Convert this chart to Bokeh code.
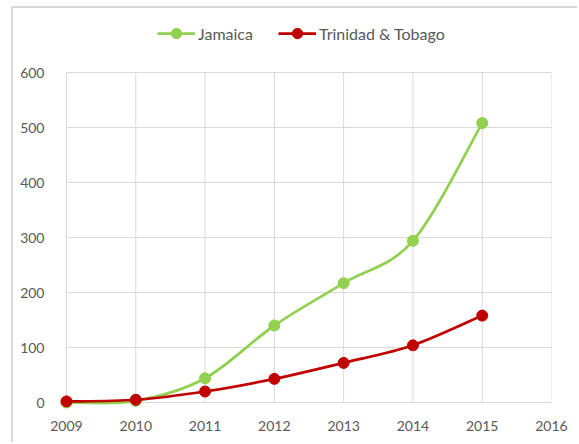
import numpy as np
from bokeh.plotting import figure
from bokeh.models import Legend, LegendItem, FixedTicker, ColumnDataSource
from bokeh.embed import file_html
from bokeh.resources import INLINE

years = [2009, 2010, 2011, 2012, 2013, 2014, 2015]
jamaica = [0, 3, 44, 140, 217, 294, 508]
trinidad = [2, 5, 20, 43, 72, 104, 158]
x_ticks = [2009, 2010, 2011, 2012, 2013, 2014, 2015, 2016]
y_ticks = [0, 100, 200, 300, 400, 500, 600]

GREEN = "#92d050"
RED = "#c00000"
GRID = "#d9d9d9"
TEXT = "#595959"
FONT = "Lato"

# layout (pixels within the canvas)
W, H = 566, 436
PAD_L, PAD_B = 10, 10          # extra room so edge markers are not clipped
PLOT_L, PLOT_R = 53, 538       # 2009 .. 2016
PLOT_T, PLOT_B = 64, 394       # 600 .. 0
xs_per_px = (x_ticks[-1] - x_ticks[0]) / (PLOT_R - PLOT_L)
ys_per_px = (y_ticks[-1] - y_ticks[0]) / (PLOT_B - PLOT_T)
x_start = x_ticks[0] - PAD_L * xs_per_px
y_start = y_ticks[0] - PAD_B * ys_per_px
y_end = y_ticks[-1] + PLOT_T * ys_per_px


def bezier_source(xs, ys):
    xs = np.asarray(xs, dtype=float)
    ys = np.asarray(ys, dtype=float)
    n = len(xs)
    d = dict(x0=[], y0=[], x1=[], y1=[], cx0=[], cy0=[], cx1=[], cy1=[])
    for i in range(n - 1):
        a = max(i - 1, 0)
        b = min(i + 2, n - 1)
        d["x0"].append(xs[i]); d["y0"].append(ys[i])
        d["x1"].append(xs[i + 1]); d["y1"].append(ys[i + 1])
        d["cx0"].append(xs[i] + (xs[i + 1] - xs[a]) / 6)
        d["cy0"].append(ys[i] + (ys[i + 1] - ys[a]) / 6)
        d["cx1"].append(xs[i + 1] - (xs[b] - xs[i]) / 6)
        d["cy1"].append(ys[i + 1] - (ys[b] - ys[i]) / 6)
    return ColumnDataSource(d)


p = figure(width=W, height=H, x_range=(x_start, x_ticks[-1]), y_range=(y_start, y_end),
           output_backend="svg", toolbar_location=None,
           min_border_left=PLOT_L - PAD_L, min_border_right=W - PLOT_R,
           min_border_top=0, min_border_bottom=H - PLOT_B - PAD_B)
p.styles = {"margin-left": "11px", "margin-top": "6px",
            "border-left": "2px solid #d9d9d9", "border-top": "2px solid #d9d9d9"}
p.outline_line_color = None
p.background_fill_color = "white"
p.border_fill_color = "white"
p.xgrid.visible = False
p.ygrid.visible = False

p.xaxis.ticker = FixedTicker(ticks=x_ticks)
p.yaxis.ticker = FixedTicker(ticks=y_ticks)
for ax in (p.xaxis, p.yaxis):
    ax.axis_line_color = None
    ax.major_tick_line_color = None
    ax.minor_tick_line_color = None
    ax.major_label_text_font = FONT
    ax.major_label_text_font_size = "14px"
    ax.major_label_text_color = TEXT
p.xaxis.major_label_standoff = 2
p.yaxis.major_label_standoff = 6

# grid lines (plot area 2009..2016 x 0..600)
p.segment(x0=x_ticks, x1=x_ticks, y0=y_ticks[0], y1=y_ticks[-1], line_color=GRID, line_width=1)
p.segment(x0=x_ticks[0], x1=x_ticks[-1], y0=y_ticks, y1=y_ticks, line_color=GRID, line_width=1)

series = [("Jamaica", jamaica, GREEN), ("Trinidad & Tobago", trinidad, RED)]
items = []
for name, vals, col in series:
    p.bezier(x0="x0", y0="y0", x1="x1", y1="y1", cx0="cx0", cy0="cy0",
             cx1="cx1", cy1="cy1", source=bezier_source(years, vals),
             line_color=col, line_width=2.75)
    sc = p.scatter(years, vals, marker="circle", size=11, fill_color=col, line_color=col)
    lg = p.line(x=years[:1], y=vals[:1], line_color=col, line_width=2.75)
    items.append(LegendItem(label=name, renderers=[lg, sc]))

legend = Legend(items=items, orientation="horizontal", location=(101, 366),
                glyph_width=38, glyph_height=26, label_standoff=3, spacing=25,
                padding=0, margin=0, border_line_color=None, background_fill_alpha=0,
                label_text_font=FONT, label_text_font_size="16px",
                label_text_color=TEXT, label_text_baseline="middle")
p.add_layout(legend, "center")

open("out.html", "w").write(file_html(p, INLINE))
